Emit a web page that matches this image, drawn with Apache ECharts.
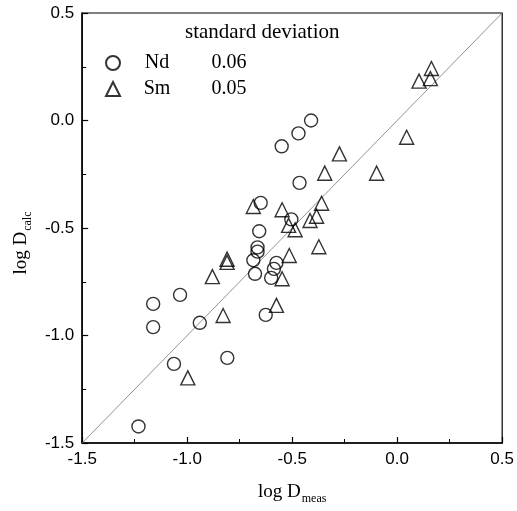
<!DOCTYPE html>
<html>
<head>
<meta charset="utf-8">
<script src="https://cdn.jsdelivr.net/npm/echarts@6/dist/echarts.min.js"></script>
<style>html,body{margin:0;padding:0;background:#fff;}#c{width:517px;height:511px;}</style>
</head>
<body>
<div id="c"></div>
<script>
var ndData = [
  [-0.41, 0.00], [-0.47, -0.06], [-0.55, -0.12], [-0.465, -0.29], [-0.65, -0.383],
  [-0.504, -0.46], [-0.657, -0.515], [-0.665, -0.59], [-0.665, -0.61], [-0.685, -0.65],
  [-0.677, -0.713], [-0.575, -0.662], [-0.587, -0.69], [-0.60, -0.732], [-0.626, -0.904],
  [-1.034, -0.811], [-1.162, -0.853], [-1.162, -0.961], [-0.94, -0.941], [-0.809, -1.104],
  [-1.063, -1.132], [-1.232, -1.423]
];
var smData = [
  [0.163, 0.242], [0.104, 0.183], [0.158, 0.195], [0.045, -0.078], [-0.275, -0.155],
  [-0.345, -0.245], [-0.098, -0.245], [-0.36, -0.385], [-0.685, -0.40], [-0.548, -0.415],
  [-0.384, -0.445], [-0.415, -0.465], [-0.517, -0.488], [-0.486, -0.508], [-0.373, -0.587],
  [-0.514, -0.628], [-0.548, -0.736], [-0.575, -0.86], [-0.81, -0.645], [-0.81, -0.66],
  [-0.88, -0.726], [-0.829, -0.907], [-0.997, -1.197]
];
var diagLine = [[-1.5, -1.5], [0.5, 0.5]];
var seriesNames = ['Nd', 'Sm'];
var stdDev = ['0.06', '0.05'];
var legendTitle = 'standard deviation';

var chart = echarts.init(document.getElementById('c'));
var sym = {color: 'rgba(0,0,0,0)', borderColor: '#000', borderWidth: 1.4};
var axisCommon = {
  type: 'value', min: -1.5, max: 0.5, interval: 0.5,
  axisLine: {show: true, onZero: false, lineStyle: {color: '#000', width: 1.5}},
  axisTick: {show: true, inside: true, length: 6, lineStyle: {color: '#000', width: 1.2}},
  minorTick: {show: true, splitNumber: 2, length: 4, lineStyle: {color: '#000', width: 1}},
  splitLine: {show: false},
  axisLabel: {color: '#000', fontFamily: 'Liberation Sans', fontSize: 17, margin: 8,
    formatter: function (v) { return v.toFixed(1); }},
  nameLocation: 'middle',
  nameTextStyle: {color: '#000', fontFamily: 'Liberation Serif'}
};
var option = {
  animation: false,
  backgroundColor: '#fff',
  grid: {left: 77, right: 13, top: 13, bottom: 68, show: true, borderColor: '#000', borderWidth: 1.2, backgroundColor: 'rgba(0,0,0,0)'},
  title: {text: legendTitle, left: 180, top: 17,
    textStyle: {fontFamily: 'Liberation Serif', fontSize: 21, fontWeight: 'normal', color: '#000'}},
  legend: {
    orient: 'vertical', left: 100, top: 48, itemWidth: 14, itemHeight: 14, itemGap: 6,
    data: seriesNames,
    formatter: function (name) {
      var i = seriesNames.indexOf(name);
      return '{n|' + name + '}{v|' + stdDev[i] + '}';
    },
    textStyle: {fontFamily: 'Liberation Serif', fontSize: 20, color: '#000', lineHeight: 20,
      rich: {
        n: {fontFamily: 'Liberation Serif', fontSize: 20, width: 64, align: 'center', lineHeight: 20},
        v: {fontFamily: 'Liberation Serif', fontSize: 20, width: 80, align: 'center', lineHeight: 20}
      }}
  },
  xAxis: Object.assign({}, axisCommon, {
    name: '{a|log D}{b|meas}', nameGap: 37,
    nameTextStyle: {color: '#000', fontFamily: 'Liberation Serif',
      rich: {
        a: {fontFamily: 'Liberation Serif', fontSize: 19, color: '#000', lineHeight: 24},
        b: {fontFamily: 'Liberation Serif', fontSize: 12, color: '#000', lineHeight: 24, padding: [14, 0, 0, 1]}
      }}
  }),
  yAxis: Object.assign({}, axisCommon, {
    name: '{a|log D}{b|calc}', nameGap: 44, nameRotate: 90,
    nameTextStyle: {color: '#000', fontFamily: 'Liberation Serif', padding: [0, 30, 0, 0],
      rich: {
        a: {fontFamily: 'Liberation Serif', fontSize: 19, color: '#000', lineHeight: 24},
        b: {fontFamily: 'Liberation Serif', fontSize: 12, color: '#000', lineHeight: 24, padding: [14, 0, 0, 1]}
      }}
  }),
  series: [
    {type: 'line', data: diagLine, showSymbol: false, symbol: 'none', silent: true,
      lineStyle: {color: '#777', width: 0.8}, z: 1},
    {name: seriesNames[0], type: 'scatter', data: ndData, symbol: 'circle', symbolSize: 13, itemStyle: sym, z: 3},
    {name: seriesNames[1], type: 'scatter', data: smData, symbol: 'triangle', symbolSize: 14, itemStyle: sym, z: 3}
  ]
};
chart.setOption(option);
</script>
</body>
</html>
